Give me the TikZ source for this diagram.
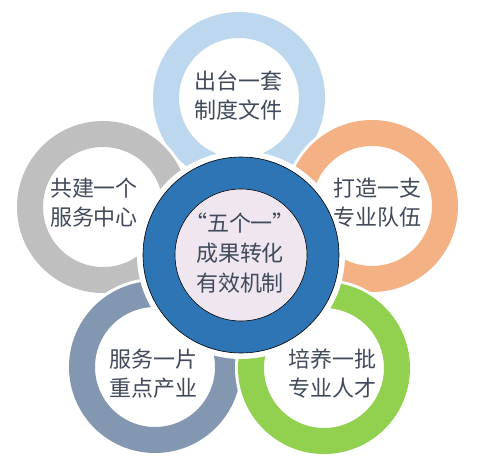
\documentclass[tikz,border=0pt]{standalone}
\usepackage{fontspec}
\setmainfont{Noto Sans CJK SC}
\definecolor{ringblue}{HTML}{BDD7EE}
\definecolor{ringgray}{HTML}{BFBFBF}
\definecolor{ringorange}{HTML}{F4B183}
\definecolor{ringslate}{HTML}{8497B0}
\definecolor{ringgreen}{HTML}{92D050}
\definecolor{hubblue}{HTML}{2E75B6}
\definecolor{hubpink}{HTML}{EFE6F0}
\definecolor{textgray}{HTML}{404A5A}
\begin{document}
\begin{tikzpicture}[x = 1pt, y = -1pt,
    ring/.style = {circle, draw = white, line width = 3pt, double = #1, double distance = 26pt, minimum size = 146pt, inner sep = 0pt},
    ringtext/.style = {text = textgray, align = center, font = \fontsize{22pt}{29pt}\selectfont}]
    \useasboundingbox (0,0) rectangle (491,472);
    \foreach \name/\x/\y/\col in {top/239/98/ringblue, left/103/207/ringgray, right/372/206/ringorange, lowleft/155/367/ringslate, lowright/324/368/ringgreen}
    \node[ring = \col] (\name) at (\x,\y) {};
    \node[circle, fill = hubblue, draw = black, line width = 0.6pt, minimum size = 196pt, preaction = {draw = white, line width = 12pt}] (hub) at (241,255) {};
    \node[circle, fill = hubpink, draw = black, line width = 0.6pt, minimum size = 132pt] (core) at (hub) {};
    \node[ringtext, font = \fontsize{22pt}{30pt}\selectfont] (coretext) at (240,253) {“五个一”\\成果转化\\有效机制};
    \node[ringtext] (toptext) at (238,96) {出台一套\\制度文件};
    \node[ringtext] (lefttext) at (94,203) {共建一个\\服务中心};
    \node[ringtext] (righttext) at (377,203) {打造一支\\专业队伍};
    \node[ringtext] (lowlefttext) at (154,374) {服务一片\\重点产业};
    \node[ringtext] (lowrighttext) at (332,374) {培养一批\\专业人才};
\end{tikzpicture}
\end{document}
